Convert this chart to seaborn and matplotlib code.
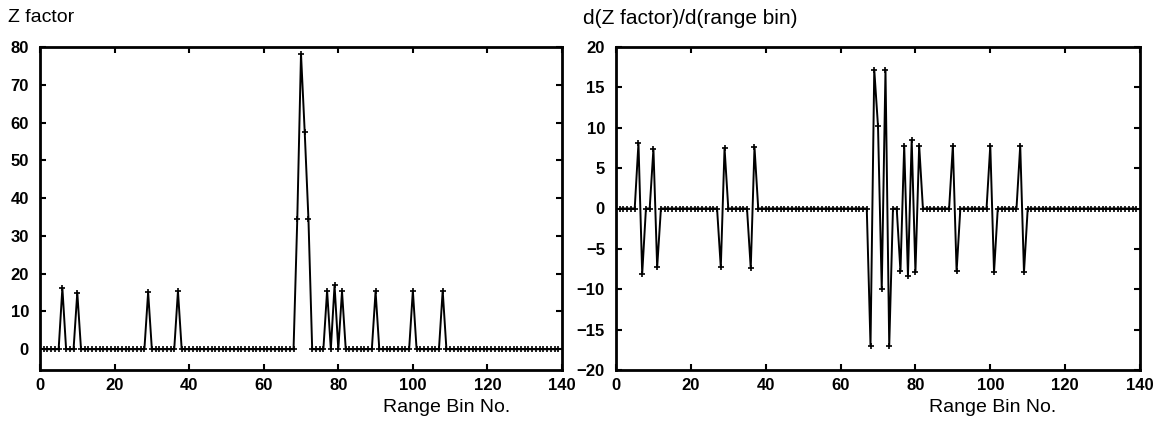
import numpy as np
import pandas as pd
import matplotlib
matplotlib.use("Agg")
import matplotlib.pyplot as plt
import seaborn as sns

# ---- data ----
range_bins = list(range(1, 140))

# Z factor peaks (bin, value); every other bin is 0
z_peak_bins = [6, 10, 29, 37, 69, 70, 71, 72, 77, 79, 81, 90, 100, 108]
z_peak_vals = [16.2, 15.0, 15.1, 15.4, 34.4, 78.2, 57.4, 34.4, 15.5, 16.9, 15.3, 15.3, 15.5, 15.5]

# derivative non-zero points (bin, value); every other bin is 0
d_bins = [6, 7, 10, 11, 28, 29, 36, 37, 68, 69, 70, 71, 72, 73,
          76, 77, 78, 79, 80, 81, 90, 91, 100, 101, 108, 109]
d_vals = [8.1, -8.1, 7.4, -7.3, -7.3, 7.5, -7.4, 7.6, -17.0, 17.2, 10.2, -10.0, 17.2, -17.0,
          -7.8, 7.8, -8.3, 8.5, -7.9, 7.8, 7.8, -7.8, 7.8, -7.9, 7.8, -7.9]

x_ticks = [0, 20, 40, 60, 80, 100, 120, 140]
z_ticks = [0, 10, 20, 30, 40, 50, 60, 70, 80]
d_ticks = [-20, -15, -10, -5, 0, 5, 10, 15, 20]

# ---- build tables ----
z_map = dict(zip(z_peak_bins, z_peak_vals))
d_map = dict(zip(d_bins, d_vals))
df_z = pd.DataFrame({"bin": range_bins, "z": [z_map.get(b, 0.0) for b in range_bins]})
df_d = pd.DataFrame({"bin": range_bins, "d": [d_map.get(b, 0.0) for b in range_bins]})

sns.set_style("ticks")
plt.rcParams["font.family"] = ["Liberation Sans", "DejaVu Sans"]
plt.rcParams["text.color"] = "black"
plt.rcParams["xtick.color"] = "black"
plt.rcParams["ytick.color"] = "black"
plt.rcParams["xtick.labelcolor"] = "black"
plt.rcParams["ytick.labelcolor"] = "black"

fig = plt.figure(figsize=(11.6, 4.29), dpi=100)
ax1 = fig.add_axes([40 / 1160, 1 - 370 / 429, 522 / 1160, 323 / 429])
ax2 = fig.add_axes([616 / 1160, 1 - 370 / 429, 524 / 1160, 323 / 429])

line_kw = dict(color="black", linewidth=1.4, marker="+", markersize=5,
               markeredgewidth=1.2, markeredgecolor="black")

sns.lineplot(data=df_z, x="bin", y="z", ax=ax1, **line_kw)
sns.lineplot(data=df_d, x="bin", y="d", ax=ax2, **line_kw)

ax1.set_xlim(0, 140)
ax1.set_ylim(-5.5, 80)
ax1.set_yticks(z_ticks)
ax2.set_xlim(0, 140)
ax2.set_ylim(-20, 20)
ax2.set_yticks(d_ticks)

for ax in (ax1, ax2):
    ax.set_xticks(x_ticks)
    ax.set_xlabel("")
    ax.set_ylabel("")
    ax.tick_params(direction="in", top=True, right=True, length=4, width=1.5,
                   labelsize=12, color="black", labelcolor="black")
    ax.tick_params(axis="y", pad=8)
    ax.tick_params(axis="x", pad=6)
    for lab in ax.get_xticklabels() + ax.get_yticklabels():
        lab.set_fontweight("bold")
        lab.set_family(["Liberation Sans", "DejaVu Sans"])
    for s in ax.spines.values():
        s.set_visible(True)
        s.set_linewidth(2.0)
        s.set_color("black")

fig.text(8 / 1160, 1 - 18 / 429, "Z factor", fontsize=14, ha="left", va="center", color="black")
fig.text(583 / 1160, 1 - 18 / 429, "d(Z factor)/d(range bin)", fontsize=15, ha="left", va="center", color="black")
fig.text(447 / 1160, 1 - 408 / 429, "Range Bin No.", fontsize=14, ha="center", va="center", color="black")
fig.text(993 / 1160, 1 - 408 / 429, "Range Bin No.", fontsize=14, ha="center", va="center", color="black")

fig.savefig("out.png", dpi=100)
